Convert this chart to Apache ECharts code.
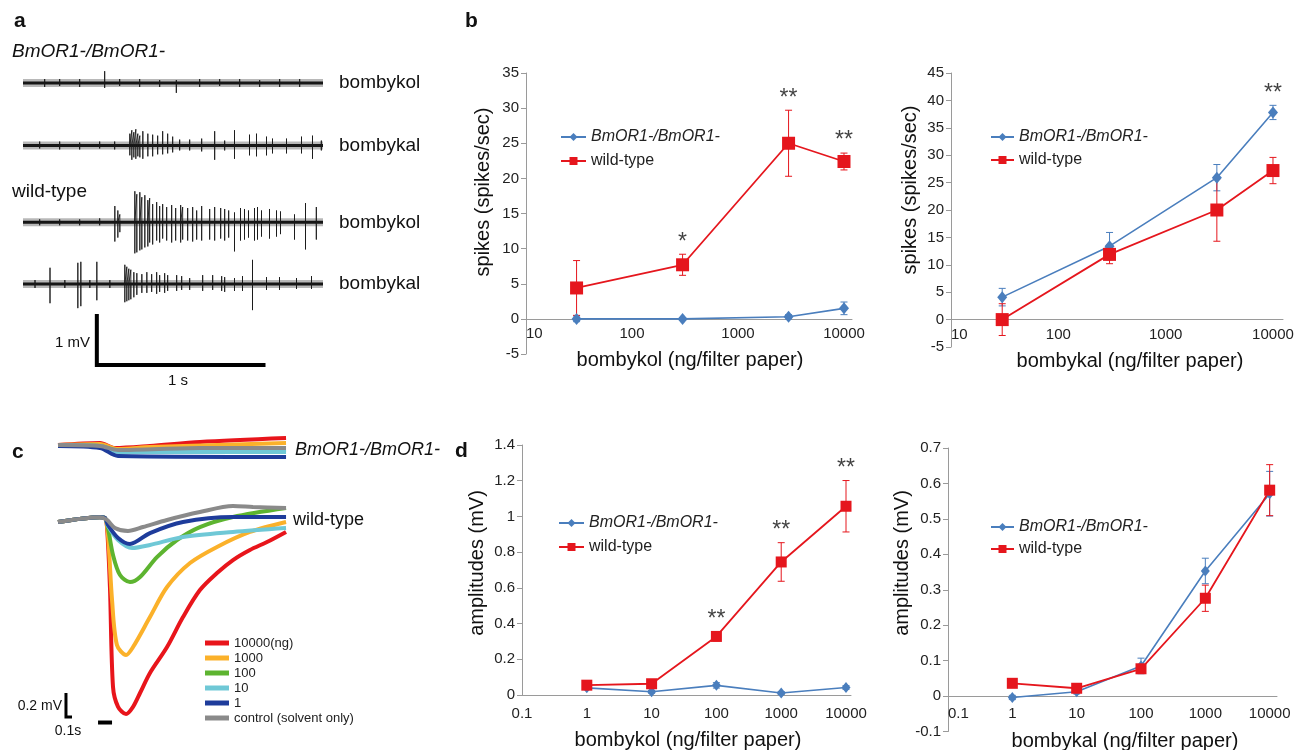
<!DOCTYPE html>
<html>
<head>
<meta charset="utf-8">
<script src="https://cdn.jsdelivr.net/npm/echarts@6/dist/echarts.min.js"></script>
<style>
html, body { margin: 0; padding: 0; background: #fff; }
#fig { width: 1306px; height: 750px; }
</style>
</head>
<body>
<div id="fig"></div>
<script>
var FONT = "'Liberation Sans', Arial, sans-serif";
var BLUE = '#4a7ebd';
var RED = '#e5161d';

// ---- panel a : single sensillum recordings, spikes as [time s, up mV, down mV]
var traceLen = 1.8;
var traceKolMutant = [[0.13,0.08,0.08],[0.22,0.08,0.06],[0.34,0.08,0.08],[0.49,0.24,0.10],[0.58,0.08,0.06],[0.70,0.08,0.08],[0.82,0.06,0.08],[0.92,0.06,0.20],[1.06,0.08,0.08],[1.18,0.08,0.06],[1.30,0.08,0.08],[1.42,0.06,0.08],[1.54,0.08,0.08],[1.66,0.08,0.08]];
var traceKalMutant = [[0.10,0.08,0.06],[0.22,0.08,0.08],[0.34,0.06,0.08],[0.46,0.08,0.06],[0.55,0.08,0.08],
  [0.641,0.24,0.20],[0.653,0.31,0.29],[0.665,0.27,0.24],[0.677,0.33,0.27],[0.689,0.24,0.22],[0.701,0.20,0.24],[0.719,0.29,0.27],[0.749,0.24,0.22],[0.778,0.22,0.22],[0.808,0.20,0.18],[0.838,0.29,0.18],[0.868,0.24,0.16],[0.898,0.18,0.14],[0.940,0.12,0.10],[1.000,0.12,0.10],[1.072,0.14,0.12],[1.150,0.29,0.29],[1.210,0.10,0.10],[1.269,0.31,0.27],[1.359,0.22,0.20],[1.401,0.24,0.22],[1.461,0.18,0.20],[1.497,0.14,0.16],[1.581,0.14,0.16],[1.671,0.18,0.16],[1.737,0.20,0.27],[1.790,0.10,0.10]];
var traceKolWild = [[0.10,0.06,0.06],[0.22,0.06,0.06],[0.34,0.06,0.06],[0.46,0.08,0.06],
  [0.551,0.33,0.39],[0.569,0.24,0.31],[0.581,0.16,0.20],
  [0.671,0.63,0.63],[0.683,0.57,0.61],[0.701,0.61,0.57],[0.713,0.51,0.55],[0.731,0.55,0.51],[0.749,0.45,0.49],[0.760,0.49,0.41],[0.778,0.37,0.45],[0.802,0.41,0.37],[0.820,0.33,0.41],[0.838,0.37,0.33],[0.862,0.31,0.37],[0.892,0.35,0.41],[0.916,0.29,0.37],[0.946,0.35,0.41],[0.958,0.31,0.35],[0.988,0.29,0.37],[1.018,0.31,0.39],[1.042,0.24,0.35],[1.072,0.33,0.37],[1.120,0.27,0.35],[1.150,0.31,0.37],[1.186,0.29,0.33],[1.210,0.27,0.37],[1.234,0.24,0.31],[1.269,0.20,0.59],[1.305,0.29,0.37],[1.329,0.27,0.35],[1.353,0.24,0.31],[1.389,0.29,0.37],[1.407,0.31,0.35],[1.431,0.24,0.29],[1.479,0.27,0.33],[1.521,0.24,0.29],[1.545,0.22,0.24],[1.629,0.16,0.35],[1.695,0.39,0.55],[1.760,0.31,0.35]];
var traceKalWild = [[0.072,0.08,0.08],[0.162,0.33,0.39],[0.251,0.08,0.08],[0.329,0.43,0.49],[0.347,0.45,0.45],[0.401,0.08,0.08],[0.443,0.45,0.33],[0.521,0.08,0.08],
  [0.611,0.39,0.37],[0.623,0.35,0.35],[0.635,0.31,0.33],[0.647,0.29,0.31],[0.665,0.24,0.27],[0.683,0.22,0.22],[0.713,0.20,0.18],[0.743,0.24,0.18],[0.772,0.20,0.16],[0.802,0.24,0.20],[0.820,0.18,0.16],[0.850,0.22,0.18],[0.868,0.18,0.14],
  [0.922,0.18,0.14],[0.952,0.16,0.12],[1.000,0.12,0.12],[1.078,0.18,0.14],[1.138,0.18,0.12],[1.192,0.16,0.14],[1.210,0.14,0.16],[1.269,0.12,0.14],[1.317,0.16,0.14],[1.377,0.49,0.53],[1.461,0.14,0.12],[1.539,0.14,0.12],[1.641,0.12,0.10],[1.731,0.16,0.10]];
var traceNames = ['bombykol', 'bombykal', 'bombykol', 'bombykal'];
// scale bar: 1 mV, 1 s
var scaleA = [[0.443, 1], [0.443, 0], [1.443, 0]];

// ---- panel b : spike frequency
var doseB = [30, 300, 3000, 10000];
var kolMutant = [0, 0, 0.3, 1.5];
var kolMutantErr = [0.4, 0.2, 0.3, 0.9];
var kolWild = [4.4, 7.7, 25.0, 22.4];
var kolWildErr = [3.9, 1.5, 4.7, 1.2];
var kolSig = ['', '*', '**', '**'];
var kalMutant = [4.1, 13.4, 25.9, 37.8];
var kalMutantErr = [1.6, 2.5, 2.4, 1.3];
var kalWild = [0.0, 11.9, 20.0, 27.2];
var kalWildErr = [2.9, 1.7, 5.7, 2.4];
var kalSig = ['', '', '', '**'];

// ---- panel c : EAG traces [time s, mV]
var eagNames = ['10000(ng)', '1000', '100', '10', '1', 'control (solvent only)'];
var eagColors = ['#e8151b', '#fbb12a', '#5db430', '#6fc8d6', '#1e3c9b', '#8a8a8a'];
var eagMutant = [
  [[0,0],[0.30,0.017],[0.407,-0.025],[0.657,-0.008],[1.014,0.025],[1.629,0.058]],
  [[0,0],[0.30,0.008],[0.429,-0.033],[0.657,-0.017],[1.629,0.017]],
  [[0,0],[0.30,-0.008],[0.429,-0.05],[1.629,-0.042]],
  [[0,0],[0.30,-0.008],[0.429,-0.058],[1.629,-0.058]],
  [[0,-0.008],[0.30,-0.025],[0.429,-0.092],[1.629,-0.1]],
  [[0,0],[0.30,-0.008],[0.429,-0.042],[1.014,-0.025],[1.629,-0.025]]
];
var eagWild = [
  [[0,0],[0.30,0.04],[0.336,0.033],[0.35,-0.04],[0.371,-0.54],[0.393,-1.375],[0.429,-1.54],[0.486,-1.6],[0.536,-1.54],[0.586,-1.425],[0.657,-1.258],[0.779,-1.042],[0.893,-0.792],[1.014,-0.567],[1.136,-0.425],[1.25,-0.317],[1.371,-0.233],[1.493,-0.167],[1.629,-0.083]],
  [[0,0],[0.30,0.04],[0.336,0.033],[0.357,-0.108],[0.386,-0.65],[0.421,-1.025],[0.486,-1.108],[0.536,-1.042],[0.657,-0.792],[0.779,-0.542],[0.943,-0.342],[1.136,-0.208],[1.371,-0.083],[1.629,0]],
  [[0,0],[0.30,0.04],[0.336,0.033],[0.357,-0.05],[0.393,-0.275],[0.443,-0.442],[0.514,-0.5],[0.586,-0.458],[0.707,-0.292],[0.85,-0.15],[1.014,-0.042],[1.25,0.042],[1.629,0.117]],
  [[0,0],[0.30,0.04],[0.336,0.033],[0.357,-0.033],[0.429,-0.15],[0.529,-0.217],[0.657,-0.192],[0.893,-0.125],[1.25,-0.083],[1.629,-0.05]],
  [[0,0],[0.30,0.04],[0.336,0.033],[0.357,-0.025],[0.429,-0.133],[0.514,-0.183],[0.657,-0.092],[0.893,0],[1.25,0.042],[1.629,0.042]],
  [[0,0],[0.30,0.04],[0.35,0.017],[0.407,-0.05],[0.5,-0.075],[0.607,-0.042],[0.779,0.017],[1.014,0.083],[1.25,0.133],[1.393,0.125],[1.629,0.117]]
];
var scaleMv = [[0.057,-1.425],[0.057,-1.625],[0.10,-1.625]];
var scaleSec = [[0.286,-1.671],[0.386,-1.671]];

// ---- panel d : EAG amplitudes
var doseD = [1, 10, 100, 1000, 10000];
var ampKolMutant = [0.040, 0.018, 0.054, 0.011, 0.042];
var ampKolMutantErr = [0.008, 0.008, 0.015, 0.008, 0.010];
var ampKolWild = [0.055, 0.063, 0.328, 0.745, 1.057];
var ampKolWildErr = [0.015, 0.010, 0.025, 0.108, 0.144];
var ampKolSig = ['', '', '**', '**', '**'];
var ampKalMutant = [-0.004, 0.012, 0.085, 0.353, 0.571];
var ampKalMutantErr = [0.006, 0.006, 0.022, 0.036, 0.063];
var ampKalWild = [0.036, 0.022, 0.077, 0.276, 0.581];
var ampKalWildErr = [0.012, 0.010, 0.010, 0.037, 0.072];

var MUT = 'BmOR1-/BmOR1-';
var WT = 'wild-type';

function spikeLine(spikes) {
  var pts = [[0, 0]];
  spikes.forEach(function (s) {
    pts.push([s[0], 0], [s[0], s[1]], [s[0], -s[2]], [s[0], 0]);
  });
  pts.push([traceLen, 0]);
  return pts;
}

function decadeLabel(v) {
  var l = Math.log(v) / Math.LN10;
  if (Math.abs(l - Math.round(l)) > 1e-6) return '';
  return String(+Number(v).toPrecision(6));
}

var grids = [], xAxes = [], yAxes = [], series = [];

function hiddenGrid(left, top, width, height, xmin, xmax, ymin, ymax) {
  var i = grids.length;
  grids.push({ left: left, top: top, width: width, height: height });
  xAxes.push({ gridIndex: i, type: 'value', min: xmin, max: xmax, show: false });
  yAxes.push({ gridIndex: i, type: 'value', min: ymin, max: ymax, show: false });
  return i;
}

// labelMargin: the x labels sit by the zero line, not at the grid bottom
function plotGrid(g, xmin, xmax, ymin, ymax, yint, alignMin, labelMargin) {
  var i = grids.length;
  grids.push({ left: g[0], top: g[1], width: g[2], height: g[3] });
  xAxes.push({
    gridIndex: i, type: 'log', logBase: 10, min: xmin, max: xmax,
    axisLine: { onZero: true, lineStyle: { color: '#9a9a9a', width: 1 } },
    axisTick: { show: false }, splitLine: { show: false },
    axisLabel: { fontSize: 15, color: '#222', fontFamily: FONT, margin: labelMargin,
      showMaxLabel: false, alignMinLabel: alignMin, formatter: decadeLabel }
  });
  yAxes.push({
    gridIndex: i, type: 'value', min: ymin, max: ymax, interval: yint,
    axisLine: { show: true, lineStyle: { color: '#9a9a9a', width: 1 } },
    axisTick: { show: true, length: 5, lineStyle: { color: '#9a9a9a' } },
    splitLine: { show: false },
    axisLabel: { fontSize: 15, color: '#222', fontFamily: FONT, margin: 7 }
  });
  return i;
}

function errorBars(gi, xs, ys, es, color) {
  return {
    type: 'custom', xAxisIndex: gi, yAxisIndex: gi, silent: true, z: 1,
    encode: { x: 0, y: 1 },
    data: xs.map(function (x, k) { return [x, ys[k], es[k]]; }),
    renderItem: function (params, api) {
      var x = api.value(0), y = api.value(1), e = api.value(2);
      var t = api.coord([x, y + e]), b = api.coord([x, y - e]);
      var w = 3.5, st = { stroke: color, lineWidth: 1 };
      return { type: 'group', children: [
        { type: 'line', shape: { x1: t[0], y1: t[1], x2: b[0], y2: b[1] }, style: st },
        { type: 'line', shape: { x1: t[0] - w, y1: t[1], x2: t[0] + w, y2: t[1] }, style: st },
        { type: 'line', shape: { x1: b[0] - w, y1: b[1], x2: b[0] + w, y2: b[1] }, style: st }
      ] };
    }
  };
}

function doseSeries(gi, xs, mut, mutErr, wild, wildErr, sig, big) {
  series.push(errorBars(gi, xs, mut, mutErr, BLUE));
  series.push(errorBars(gi, xs, wild, wildErr, RED));
  series.push({
    name: MUT, type: 'line', xAxisIndex: gi, yAxisIndex: gi, z: 3,
    data: xs.map(function (x, k) { return [x, mut[k]]; }),
    symbol: 'diamond', symbolSize: big ? [10, 12] : [9, 11],
    itemStyle: { color: BLUE }, lineStyle: { color: BLUE, width: 1.6 }
  });
  series.push({
    name: WT, type: 'line', xAxisIndex: gi, yAxisIndex: gi, z: 3,
    data: xs.map(function (x, k) { return [x, wild[k]]; }),
    symbol: 'rect', symbolSize: big ? 13 : 11,
    itemStyle: { color: RED }, lineStyle: { color: RED, width: 1.8 }
  });
  var marks = [];
  xs.forEach(function (x, k) {
    if (!sig[k]) return;
    var top = Math.max(mut[k] + mutErr[k], wild[k] + wildErr[k]);
    marks.push({ value: [x, top], label: { formatter: sig[k] } });
  });
  series.push({
    type: 'scatter', xAxisIndex: gi, yAxisIndex: gi, silent: true, z: 4,
    symbolSize: 1, itemStyle: { color: 'rgba(0,0,0,0)' },
    label: { show: true, position: 'top', distance: 0, fontSize: 23, color: '#111', fontFamily: FONT },
    data: marks
  });
}

// panel a grids
var traceCenters = [83, 145.5, 222.3, 284];
[traceKolMutant, traceKalMutant, traceKolWild, traceKalWild].forEach(function (tr, k) {
  var gi = hiddenGrid(23, traceCenters[k] - 34.5, 300, 69, 0, traceLen, -0.7, 0.7);
  series.push({ type: 'line', xAxisIndex: gi, yAxisIndex: gi, silent: true, clip: false,
    showSymbol: false, data: [[0, 0], [traceLen, 0]], lineStyle: { color: 'rgba(0,0,0,0.28)', width: 8 } });
  series.push({ type: 'line', xAxisIndex: gi, yAxisIndex: gi, silent: true, clip: false,
    showSymbol: false, data: [[0, 0], [traceLen, 0]], lineStyle: { color: '#151515', width: 3 } });
  series.push({ type: 'line', xAxisIndex: gi, yAxisIndex: gi, silent: true, clip: false,
    showSymbol: false, data: spikeLine(tr), lineStyle: { color: '#1a1a1a', width: 0.9 } });
});
var gScaleA = hiddenGrid(23, 316, 300, 49, 0, traceLen, 0, 1);
series.push({ type: 'line', xAxisIndex: gScaleA, yAxisIndex: gScaleA, silent: true, clip: false,
  showSymbol: false, data: scaleA, lineStyle: { color: '#000', width: 4, cap: 'square', join: 'miter' } });

// panel b
var gB1 = plotGrid([526, 73, 326, 281], 10, 11900, -5, 35, 5, 'left', -28);
doseSeries(gB1, doseB, kolMutant, kolMutantErr, kolWild, kolWildErr, kolSig, true);
var gB2 = plotGrid([951, 73, 332, 274], 10, 12400, -5, 45, 5, 'left', -20);
doseSeries(gB2, doseB, kalMutant, kalMutantErr, kalWild, kalWildErr, kalSig, true);

// panel c
var gC1 = hiddenGrid(58, 433, 230, 36, 0, 1.643, -0.2, 0.1);
var gC2 = hiddenGrid(58, 498, 230, 228, 0, 1.643, -1.7, 0.2);
[[gC1, eagMutant], [gC2, eagWild]].forEach(function (p) {
  p[1].forEach(function (curve, k) {
    series.push({ name: eagNames[k], type: 'line', xAxisIndex: p[0], yAxisIndex: p[0],
      silent: true, clip: false, showSymbol: false, symbol: 'none', smooth: 0.3, data: curve,
      itemStyle: { color: eagColors[k] }, lineStyle: { color: eagColors[k], width: 4 } });
  });
});
series.push({ type: 'line', xAxisIndex: gC2, yAxisIndex: gC2, silent: true, clip: false,
  showSymbol: false, data: scaleMv, lineStyle: { color: '#000', width: 3, join: 'miter' } });
series.push({ type: 'line', xAxisIndex: gC2, yAxisIndex: gC2, silent: true, clip: false,
  showSymbol: false, data: scaleSec, lineStyle: { color: '#000', width: 4 } });

// panel d
var gD1 = plotGrid([522, 445, 329, 250], 0.1, 11940, 0, 1.4, 0.2, 'center', 11);
doseSeries(gD1, doseD, ampKolMutant, ampKolMutantErr, ampKolWild, ampKolWildErr, ampKolSig, false);
var gD2 = plotGrid([948, 448, 329, 283.5], 0.1, 13000, -0.1, 0.7, 0.1, 'left', -25);
doseSeries(gD2, doseD, ampKalMutant, ampKalMutantErr, ampKalWild, ampKalWildErr, ['', '', '', '', ''], false);

function doseLegend(left, top, gap, w) {
  return {
    left: left, top: top, orient: 'vertical', itemGap: gap, itemWidth: w, itemHeight: 10,
    selectedMode: false, padding: 0,
    textStyle: { fontSize: 16, color: '#222', fontFamily: FONT, lineHeight: 16 },
    data: [{ name: MUT, textStyle: { fontStyle: 'italic' } }, { name: WT }]
  };
}

function txt(str, x, y, size, opt) {
  opt = opt || {};
  var al = opt.align || 'left';
  return { type: 'text', x: x, y: y, rotation: opt.rot || 0, silent: true, z: 10,
    style: { text: str, fontSize: size, fontFamily: FONT,
      fontStyle: opt.italic ? 'italic' : 'normal', fontWeight: opt.bold ? 'bold' : 'normal',
      fill: '#111', align: al, verticalAlign: 'middle', textAlign: al, textVerticalAlign: 'middle' } };
}

var texts = [
  txt('a', 14, 21, 21, { bold: true }),
  txt('b', 465, 21, 21, { bold: true }),
  txt('c', 12, 452, 21, { bold: true }),
  txt('d', 455, 451, 21, { bold: true }),
  txt(MUT, 12, 52, 19, { italic: true }),
  txt(WT, 12, 192, 19),
  txt('1 mV', 90, 343, 15, { align: 'right' }),
  txt('1 s', 178, 381, 15, { align: 'center' }),
  txt(MUT, 295, 450, 18, { italic: true }),
  txt(WT, 293, 520, 18),
  txt('0.2 mV', 62, 706, 14, { align: 'right' }),
  txt('0.1s', 68, 731, 14, { align: 'center' }),
  txt('spikes (spikes/sec)', 483, 192, 20, { align: 'center', rot: Math.PI / 2 }),
  txt('bombykol (ng/filter paper)', 690, 360, 20, { align: 'center' }),
  txt('spikes (spikes/sec)', 910, 190, 20, { align: 'center', rot: Math.PI / 2 }),
  txt('bombykal (ng/filter paper)', 1130, 361, 20, { align: 'center' }),
  txt('amplitudes (mV)', 477, 563, 20, { align: 'center', rot: Math.PI / 2 }),
  txt('bombykol (ng/filter paper)', 688, 740, 20, { align: 'center' }),
  txt('amplitudes (mV)', 902, 563, 20, { align: 'center', rot: Math.PI / 2 }),
  txt('bombykal (ng/filter paper)', 1125, 741, 20, { align: 'center' })
];
traceNames.forEach(function (n, k) { texts.push(txt(n, 339, traceCenters[k], 19)); });

var myChart = echarts.init(document.getElementById('fig'), null, { renderer: 'canvas' });
myChart.setOption({
  backgroundColor: '#fff',
  animation: false,
  textStyle: { fontFamily: FONT },
  grid: grids,
  xAxis: xAxes,
  yAxis: yAxes,
  legend: [
    doseLegend(560, 129, 8, 25),
    doseLegend(990, 129, 7, 23),
    doseLegend(558, 515, 8, 25),
    doseLegend(990, 519, 6, 23),
    {
      left: 205, top: 636, orient: 'vertical', itemGap: 1, itemWidth: 24, itemHeight: 5,
      icon: 'rect', selectedMode: false, padding: 0,
      textStyle: { fontSize: 13, color: '#222', fontFamily: FONT, lineHeight: 14 },
      data: eagNames
    }
  ],
  graphic: texts,
  series: series
});
</script>
</body>
</html>
